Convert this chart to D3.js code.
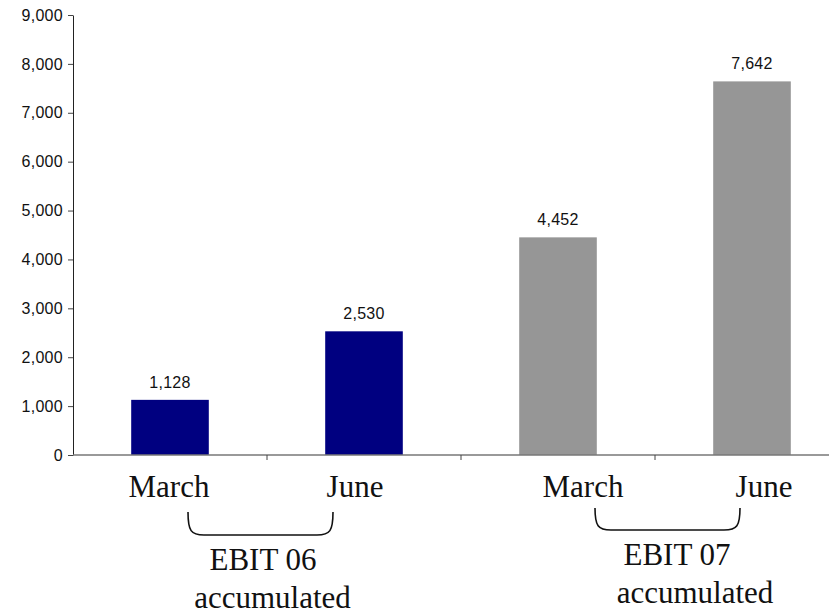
<!DOCTYPE html>
<html>
<head>
<meta charset="utf-8">
<script src="https://cdn.jsdelivr.net/npm/d3@7"></script>
<style>
  html, body { margin: 0; padding: 0; background: #fff; }
  svg { display: block; }
</style>
</head>
<body>
<svg id="chart" width="829" height="614"></svg>
<script>
// EBIT, accumulated, by quarter end
const categories = ["March 06", "June 06", "March 07", "June 07"];
const monthLabels = ["March", "June", "March", "June"];
const values = [1128, 2530, 4452, 7642];
const barColors = ["#000080", "#000080", "#969696", "#969696"];
const yTicks = [0, 1000, 2000, 3000, 4000, 5000, 6000, 7000, 8000, 9000];
const groups = [
  { title: "EBIT 06", sub: "accumulated", from: "March 06", to: "June 06" },
  { title: "EBIT 07", sub: "accumulated", from: "March 07", to: "June 07" }
];

const svg = d3.select("#chart");
const plotLeft = 73, plotTop = 15, plotBottom = 455;

const x = d3.scaleBand()
  .domain(categories)
  .range([plotLeft, plotLeft + 4 * 194])
  .paddingInner(0.6)
  .paddingOuter(0.3);

const y = d3.scaleLinear().domain([0, 9000]).range([plotBottom, plotTop]);

const fmt = d3.format(",");
const sans = "'Liberation Sans', Arial, Helvetica, sans-serif";
const serif = "'Liberation Serif', 'Times New Roman', serif";

// bars
svg.append("g").selectAll("rect")
  .data(values)
  .join("rect")
  .attr("x", (d, i) => x(categories[i]))
  .attr("y", d => y(d))
  .attr("width", x.bandwidth())
  .attr("height", d => y(0) - y(d))
  .attr("fill", (d, i) => barColors[i]);

// value labels
svg.append("g").selectAll("text")
  .data(values)
  .join("text")
  .attr("x", (d, i) => x(categories[i]) + x.bandwidth() / 2)
  .attr("y", d => y(d) - 12)
  .attr("text-anchor", "middle")
  .style("font-family", sans)
  .style("font-size", "16px")
  .style("letter-spacing", "0.3px")
  .attr("fill", "#111")
  .text(d => fmt(d));

// y axis
const yAxis = svg.append("g")
  .attr("transform", `translate(${plotLeft},0)`)
  .call(d3.axisLeft(y).tickValues(yTicks).tickFormat(fmt).tickSize(5).tickSizeOuter(0).tickPadding(5));
yAxis.select(".domain").attr("stroke", "#222");
yAxis.selectAll(".tick line").attr("stroke", "#444");
yAxis.selectAll("text")
  .style("font-family", sans)
  .style("font-size", "16px")
  .style("letter-spacing", "0.3px")
  .attr("fill", "#111");

// x axis: ticks at category boundaries
const step = x.step();
const boundaries = categories.map((c, i) => plotLeft + (i + 1) * step);
svg.append("line")
  .attr("x1", plotLeft).attr("x2", plotLeft + 4 * step)
  .attr("y1", plotBottom).attr("y2", plotBottom)
  .attr("stroke", "#777").attr("stroke-width", 1.3);
svg.append("g").selectAll("line")
  .data(boundaries)
  .join("line")
  .attr("x1", d => d).attr("x2", d => d)
  .attr("y1", plotBottom).attr("y2", plotBottom + 5)
  .attr("stroke", "#444");

// month labels under bars
const monthShift = [-1, -9, 25, 12];
svg.append("g").selectAll("text")
  .data(monthLabels)
  .join("text")
  .attr("x", (d, i) => x(categories[i]) + x.bandwidth() / 2 + monthShift[i])
  .attr("y", 497)
  .attr("text-anchor", "middle")
  .style("font-family", serif)
  .style("font-size", "31px")
  .attr("fill", "#111")
  .text(d => d);

// group brackets and captions
const bracket = [
  { x0: 18, x1: -31, y0: 512, y1: 535, tx: 2.5, sx: 12 },
  { x0: 37, x1: -12, y0: 508, y1: 530, tx: 9.5, sx: 27.5 }
];
groups.forEach((g, i) => {
  const b = bracket[i];
  const a = x(g.from) + x.bandwidth() / 2 + b.x0;
  const c = x(g.to) + x.bandwidth() / 2 + b.x1;
  const r = 16;
  const p = d3.path();
  p.moveTo(a, b.y0);
  p.bezierCurveTo(a, b.y1 - 4, a + 3, b.y1, a + r, b.y1);
  p.lineTo(c - r, b.y1);
  p.bezierCurveTo(c - 3, b.y1, c, b.y1 - 4, c, b.y0);
  svg.append("path")
    .attr("d", p.toString())
    .attr("fill", "none")
    .attr("stroke", "#111")
    .attr("stroke-width", 1.6);
  const mid = (a + c) / 2;
  svg.append("text")
    .attr("x", mid + b.tx)
    .attr("y", b.y1 + 35)
    .attr("text-anchor", "middle")
    .style("font-family", serif)
    .style("font-size", "31px")
    .attr("fill", "#111")
    .text(g.title);
  svg.append("text")
    .attr("x", mid + b.sx)
    .attr("y", b.y1 + 73)
    .attr("text-anchor", "middle")
    .style("font-family", serif)
    .style("font-size", "31px")
    .attr("fill", "#111")
    .text(g.sub);
});
</script>
</body>
</html>
